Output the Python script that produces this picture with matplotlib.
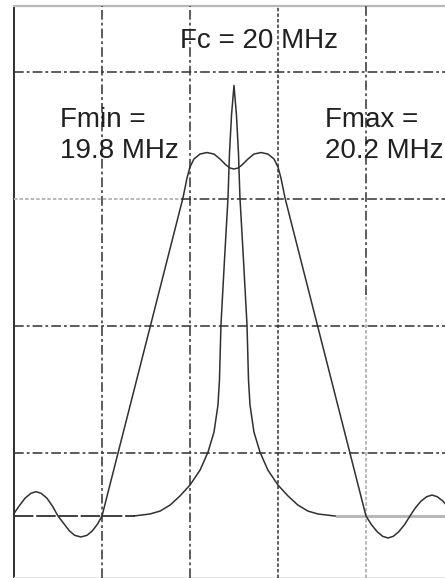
import matplotlib
matplotlib.use('Agg')
import matplotlib.pyplot as plt

plt.rcParams['font.family'] = ['Liberation Sans', 'DejaVu Sans']
plt.rcParams['lines.scale_dashes'] = False

# units: x in grid divisions, y in grid divisions above the baseline
# narrow spike (carrier)
spike_x = [1.36, 1.545, 1.66, 1.775, 1.885, 2.0, 2.115, 2.205, 2.273, 2.318, 2.335,
           2.352, 2.392, 2.432, 2.449, 2.472, 2.5,
           2.528, 2.551, 2.568, 2.608, 2.648, 2.665, 2.682, 2.727, 2.795, 2.885,
           3.0, 3.115, 3.225, 3.34, 3.455, 3.65]
spike_y = [0.0, 0.016, 0.039, 0.087, 0.157, 0.244, 0.362, 0.504, 0.661, 0.874, 1.071,
           1.504, 2.016, 2.504, 2.858, 3.157, 3.39,
           3.157, 2.858, 2.504, 2.016, 1.504, 1.071, 0.874, 0.661, 0.504, 0.362,
           0.244, 0.157, 0.087, 0.039, 0.016, 0.0]

# wide modulated spectrum with side lobes
wide_x = [0.0, 0.06, 0.125, 0.19, 0.25, 0.31, 0.375, 0.44, 0.5,
          0.57, 0.63, 0.69, 0.76, 0.83, 0.89, 0.95, 1.0,
          1.92, 1.966, 2.0, 2.045, 2.114, 2.193, 2.273, 2.341, 2.409, 2.455, 2.5,
          2.545, 2.591, 2.659, 2.727, 2.807, 2.886, 2.955, 3.0, 3.034, 3.08,
          4.0, 4.06, 4.125, 4.19, 4.25, 4.31, 4.375, 4.44, 4.5,
          4.56, 4.625, 4.69, 4.75, 4.81, 4.875, 4.94, 5.0]
wide_y = [0.02, 0.08, 0.14, 0.178, 0.192, 0.178, 0.14, 0.075, 0.0,
          -0.063, -0.117, -0.152, -0.165, -0.152, -0.117, -0.063, 0.0,
          2.504, 2.661, 2.748, 2.811, 2.85, 2.862, 2.85, 2.811, 2.764, 2.74, 2.732,
          2.74, 2.764, 2.811, 2.85, 2.862, 2.85, 2.811, 2.748, 2.661, 2.504,
          0.0, -0.066, -0.122, -0.16, -0.173, -0.16, -0.122, -0.066, 0.0,
          0.063, 0.117, 0.152, 0.165, 0.152, 0.117, 0.063, 0.0]

vgrid = [1, 2, 3, 4]
hgrid = [0.5, 1.5, 2.5, 3.5]

labels = ['Fc = 20 MHz', 'Fmin =', '19.8 MHz', 'Fmax =', '20.2 MHz']
label_x = [1.886, 0.523, 0.523, 3.534, 3.534]
label_y = [3.685, 3.063, 2.819, 3.063, 2.819]

dark = '#303030'
grey = '#b8b8b8'
dashdot = (0, (7, 2.2, 2, 2.2))
dotted = (0, (2.5, 1.5))

fig = plt.figure(figsize=(4.45, 5.78), dpi=100)
ax = fig.add_axes([0, 0, 1, 1])
ax.set_xlim(-0.159, 4.898)
ax.set_ylim(-0.488, 4.063)
ax.axis('off')

# frame
ax.plot([0, 0], [-0.49, 4.016], color=dark, lw=1.4)
ax.plot([0, 4.9], [4.016, 4.016], color=grey, lw=1.6)
ax.plot([0, 4.9], [-0.478, -0.478], color='#e4e4e4', lw=0.8)

# vertical grid
for i, gx in enumerate(vgrid):
    if gx == 3:
        ax.plot([gx, gx], [-0.49, 4.016], color=dark, lw=1.1, ls=dotted)
    elif gx == 4:
        ax.plot([gx, gx], [1.74, 4.016], color=dark, lw=1.1, ls=dashdot)
        ax.plot([gx, gx], [-0.49, 1.74], color=grey, lw=1.4, ls=dotted)
    else:
        ax.plot([gx, gx], [-0.49, 4.016], color=dark, lw=1.1, ls=dashdot)

# horizontal grid
for gy in hgrid:
    if gy == 2.5:
        ax.plot([0, 1.9], [gy, gy], color=grey, lw=1.4, ls=dotted)
        ax.plot([1.9, 4.9], [gy, gy], color=dark, lw=1.1, ls=dashdot)
    else:
        ax.plot([0, 4.9], [gy, gy], color=dark, lw=1.1, ls=dashdot)

# baseline pieces
ax.plot([0, 1.38], [0, 0], color=dark, lw=1.3, ls=(0, (14, 2)))
ax.plot([3.67, 4.9], [0, 0], color=grey, lw=2.2)

ax.plot(wide_x, wide_y, color=dark, lw=1.1)
ax.plot(spike_x, spike_y, color=dark, lw=1.1)

for t, tx, ty in zip(labels, label_x, label_y):
    ax.text(tx, ty, t, fontsize=20, color='#202020', ha='left', va='baseline')

fig.savefig('out.png', dpi=100)
